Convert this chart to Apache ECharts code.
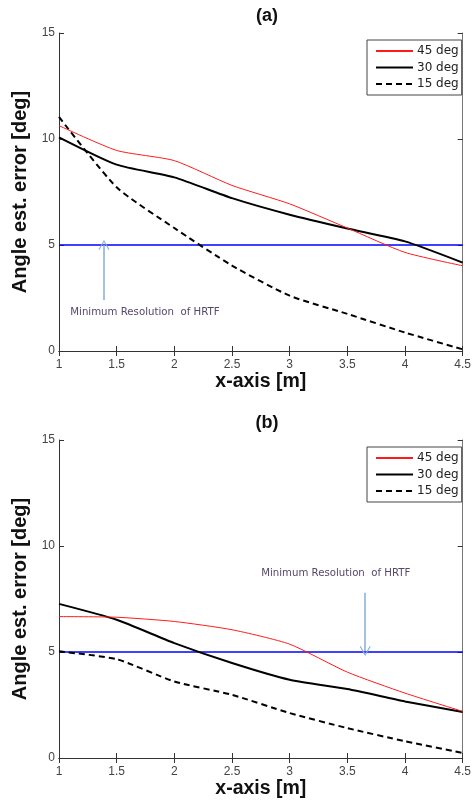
<!DOCTYPE html>
<html>
<head>
<meta charset="utf-8">
<script src="https://cdn.jsdelivr.net/npm/echarts@6/dist/echarts.min.js"></script>
<style>
  html, body { margin: 0; padding: 0; background: #fff; }
  #chart { width: 474px; height: 800px; }
</style>
</head>
<body>
<div id="chart"></div>
<script>
// Distance from source (m)
const distances = [1, 1.5, 2, 2.5, 3, 3.5, 4, 4.5];

// (a) angle estimation error [deg]
const errA45 = [10.63, 9.46, 8.98, 7.81, 6.94, 5.80, 4.65, 4.02];
const errA30 = [10.08, 8.79, 8.19, 7.21, 6.43, 5.78, 5.17, 4.17];
const errA15 = [11.04, 7.72, 5.80, 4.03, 2.61, 1.75, 0.87, 0.08];

// (b) angle estimation error [deg]
const errB45 = [6.67, 6.64, 6.44, 6.05, 5.37, 4.05, 3.06, 2.20];
const errB30 = [7.27, 6.52, 5.42, 4.48, 3.69, 3.25, 2.67, 2.17];
const errB15 = [5.03, 4.66, 3.61, 2.98, 2.12, 1.41, 0.79, 0.24];

// HRTF minimum resolution [deg]
const hrtfResolution = 5;
const seriesNames = ['45 deg', '30 deg', '15 deg'];
const panelTitles = ['(a)', '(b)'];
const yTicks = [0, 15, 5];      // min, max, interval
const xTicks = [1, 4.5, 0.5];   // min, max, interval

const noteText = 'Minimum Resolution  of HRTF';
// annotation arrows: [x, yStart, yEnd] and note positions [x, y]
const arrowA = [1.39, 2.4, 5.0];
const noteA = [1.745, 1.84];
const arrowB = [3.655, 7.8, 5.05];
const noteB = [3.40, 8.69];

const chart = echarts.init(document.getElementById('chart'));

const axisColor = '#333';
const tickFont = { fontFamily: 'Liberation Sans', fontSize: 12, color: '#444' };
const nameFontY = { fontFamily: 'Liberation Sans', fontSize: 20, fontWeight: 'bold', color: '#111' };
const nameFontX = { fontFamily: 'Liberation Sans', fontSize: 19.5, fontWeight: 'bold', color: '#111' };

const grids = [
  { left: 59, top: 33, width: 406, height: 318 },
  { left: 59, top: 440, width: 406, height: 318 }
];

function pairs(ys) { return distances.map((x, i) => [x, ys[i]]); }

const xAxes = [], yAxes = [];
[0, 1].forEach(g => {
  xAxes.push({
    type: 'value', gridIndex: g, min: xTicks[0], max: xTicks[1], interval: xTicks[2],
    position: 'bottom',
    name: 'x-axis [m]', nameLocation: 'middle', nameGap: 21, nameTextStyle: nameFontX,
    axisLine: { show: true, lineStyle: { color: axisColor, width: 1 } },
    axisTick: { show: true, inside: true, length: 5, lineStyle: { color: axisColor } },
    axisLabel: Object.assign({ margin: 8 }, tickFont),
    splitLine: { show: false }
  });
  xAxes.push({
    type: 'value', gridIndex: g, min: xTicks[0], max: xTicks[1], interval: xTicks[2],
    position: 'top',
    axisLine: { show: true, lineStyle: { color: axisColor, width: 1 } },
    axisTick: { show: true, inside: true, length: 5, lineStyle: { color: axisColor } },
    axisLabel: { show: false },
    splitLine: { show: false }
  });
  yAxes.push({
    type: 'value', gridIndex: g, min: yTicks[0], max: yTicks[1], interval: yTicks[2],
    position: 'left',
    name: 'Angle est. error [deg]', nameLocation: 'middle', nameGap: 26, nameTextStyle: nameFontY,
    axisLine: { show: true, lineStyle: { color: axisColor, width: 1 } },
    axisTick: { show: true, inside: true, length: 5, lineStyle: { color: axisColor } },
    axisLabel: Object.assign({ margin: 4 }, tickFont),
    splitLine: { show: false }
  });
  yAxes.push({
    type: 'value', gridIndex: g, min: yTicks[0], max: yTicks[1], interval: yTicks[2],
    position: 'right',
    axisLine: { show: true, lineStyle: { color: '#777', width: 1 } },
    axisTick: { show: true, inside: true, length: 5, lineStyle: { color: axisColor } },
    axisLabel: { show: false },
    splitLine: { show: false }
  });
});

const styles = [
  { color: '#ff1a1a', width: 1, type: 'solid' },
  { color: '#000000', width: 2, type: 'solid' },
  { color: '#000000', width: 2, type: [6, 4] }
];

const chevronUp = 'path://M0,0 L6,9 L5,9.6 L0,2 L-5,9.6 L-6,9 Z';

function annotation(g, arrow, note) {
  return {
    type: 'line', xAxisIndex: g * 2, yAxisIndex: g * 2, data: [], silent: true,
    markLine: {
      silent: true, animation: false,
      lineStyle: { color: '#86acd8', width: 1.5, type: 'solid' },
      label: { show: false },
      data: [[
        { coord: [arrow[0], arrow[1]], symbol: 'none' },
        { coord: [arrow[0], arrow[2]], symbol: chevronUp, symbolSize: [11, 10] }
      ]]
    },
    markPoint: {
      silent: true, animation: false,
      symbol: 'circle', symbolSize: 0,
      data: [{
        coord: note,
        label: {
          show: true, position: 'inside', formatter: noteText,
          fontFamily: 'DejaVu Sans', fontSize: 10.2, color: '#55486a'
        }
      }]
    }
  };
}

const panels = [[errA45, errA30, errA15], [errB45, errB30, errB15]];
const series = [];
panels.forEach((vals, g) => {
  vals.forEach((ys, k) => {
    series.push({
      name: seriesNames[k], type: 'line', xAxisIndex: g * 2, yAxisIndex: g * 2,
      data: pairs(ys), symbol: 'none', smooth: 0.2, animation: false,
      lineStyle: styles[k], itemStyle: { color: styles[k].color }, z: 3 - k + 2
    });
  });
  series.push({
    name: 'resolution', type: 'line', xAxisIndex: g * 2, yAxisIndex: g * 2,
    data: [[xTicks[0], hrtfResolution], [xTicks[1], hrtfResolution]],
    symbol: 'none', animation: false, z: 1,
    lineStyle: { color: '#0000ff', width: 1.4 }
  });
  series.push(annotation(g, g === 0 ? arrowA : arrowB, g === 0 ? noteA : noteB));
});

const legendBase = {
  data: seriesNames, orient: 'vertical', left: 367,
  itemWidth: 37, itemHeight: 14, itemGap: 4.5,
  itemStyle: { opacity: 0 },
  padding: [5, 3, 5, 8], borderColor: '#444', borderWidth: 1, backgroundColor: '#fff',
  textStyle: { fontFamily: 'DejaVu Sans', fontSize: 12, color: '#222', padding: [0, 0, 0, -1] },
  selectedMode: false
};

chart.setOption({
  animation: false,
  title: panelTitles.map((t, i) => ({
    text: t, left: 262, textAlign: 'center', top: i === 0 ? 2 : 409,
    textStyle: { fontFamily: 'Liberation Sans', fontSize: 18, fontWeight: 'bold', color: '#111' }
  })),
  legend: [
    Object.assign({ top: 40 }, legendBase),
    Object.assign({ top: 447 }, legendBase)
  ],
  grid: grids,
  xAxis: xAxes,
  yAxis: yAxes,
  series: series
});
</script>
</body>
</html>
